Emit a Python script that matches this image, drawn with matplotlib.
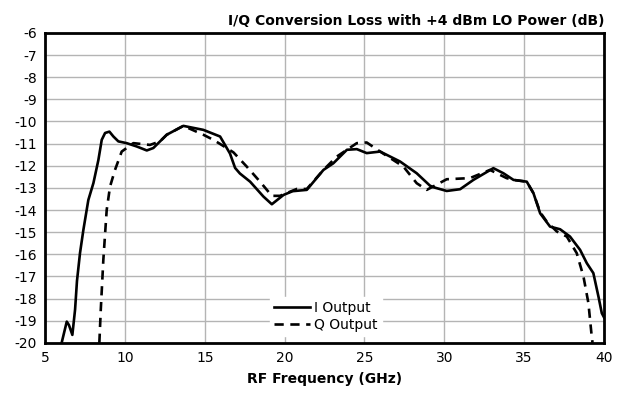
import matplotlib
matplotlib.use('Agg')
import matplotlib.pyplot as plt
import matplotlib.ticker as mticker

plt.rcParams['axes.unicode_minus'] = False

# I output trace (GHz, dB)
i_freq = [6.04, 6.36, 6.5, 6.71, 6.88, 7.0, 7.19, 7.4, 7.71, 8.03, 8.34, 8.55, 8.76, 9.03, 9.28,
          9.59, 10.11, 10.74, 11.37, 11.78, 12.62, 13.66, 14.91, 15.96, 16.58, 16.9, 17.2, 17.84,
          18.67, 19.2, 19.93, 20.5, 21.39, 22.43, 23.05, 23.9, 24.52, 25.14, 25.98, 27.23, 28.27,
          29.1, 29.31, 30.15, 30.99, 31.82, 33.07, 33.7, 34.33, 35.16, 35.58, 36.0, 36.62, 37.25,
          37.87, 38.5, 38.92, 39.33, 39.65, 39.86, 40.0]
i_loss = [-20.0, -19.04, -19.2, -19.64, -18.5, -17.2, -15.94, -14.9, -13.55, -12.78, -11.74, -10.83,
          -10.52, -10.46, -10.68, -10.9, -10.98, -11.13, -11.31, -11.2, -10.6, -10.2, -10.38, -10.68,
          -11.45, -12.1, -12.35, -12.72, -13.39, -13.74, -13.32, -13.15, -13.09, -12.19, -11.89,
          -11.28, -11.25, -11.43, -11.36, -11.81, -12.34, -12.9, -12.97, -13.14, -13.06, -12.64,
          -12.11, -12.34, -12.64, -12.72, -13.24, -14.15, -14.75, -14.87, -15.2, -15.8, -16.4,
          -16.85, -17.91, -18.66, -18.85]

# Q output trace (GHz, dB)
q_freq = [8.4, 8.49, 8.65, 8.86, 9.07, 9.38, 9.8, 10.53, 11.57, 12.2, 12.62, 13.66, 14.91, 15.54,
          16.37, 16.8, 17.63, 18.46, 19.2, 19.71, 20.76, 21.39, 22.43, 23.26, 24.52, 25.14, 25.98,
          27.44, 28.27, 28.9, 29.4, 30.15, 31.6, 32.86, 33.9, 34.33, 35.16, 35.58, 36.0, 36.41,
          37.04, 37.67, 38.29, 38.71, 39.02, 39.23, 39.28]
q_loss = [-20.0, -18.5, -16.25, -14.0, -12.94, -12.19, -11.36, -10.98, -11.06, -10.9, -10.6, -10.2,
          -10.6, -10.83, -11.2, -11.4, -12.04, -12.72, -13.36, -13.36, -13.05, -13.05, -12.19,
          -11.59, -10.98, -10.95, -11.36, -12.04, -12.79, -13.09, -12.9, -12.61, -12.56, -12.19,
          -12.56, -12.64, -12.72, -13.24, -14.1, -14.52, -14.97, -15.2, -15.95, -17.0, -18.2,
          -19.72, -20.0]

fig = plt.figure(figsize=(6.17, 4.01), dpi=100)
ax = fig.add_axes([0.073, 0.145, 0.906, 0.773])

ax.plot(i_freq, i_loss, color='black', lw=1.9, solid_joinstyle='round', label='I Output')
ax.plot(q_freq, q_loss, color='black', lw=1.9, ls=(0, (3.5, 2.5)), dash_joinstyle='round',
        label='Q Output')

ax.set_xlim(5, 40)
ax.set_ylim(-20, -6)
ax.xaxis.set_major_locator(mticker.MultipleLocator(5))
ax.yaxis.set_major_locator(mticker.MultipleLocator(1))
ax.grid(True, color='#b4b4b4', lw=1)
ax.set_axisbelow(True)
ax.tick_params(length=0, labelsize=10, pad=6)
for s in ax.spines.values():
    s.set_linewidth(2)
    s.set_color('black')

ax.set_xlabel('RF Frequency (GHz)', fontweight='bold', fontsize=10, labelpad=5)
ax.set_title('I/Q Conversion Loss with +4 dBm LO Power (dB)', fontweight='bold',
             fontsize=10, loc='right', pad=6)

leg = ax.legend(loc='lower left', bbox_to_anchor=(0.39, 0.0), fontsize=10, frameon=True,
                fancybox=False, edgecolor='white', framealpha=1, handlelength=2.6,
                handletextpad=0.3, borderpad=0.3, labelspacing=0.2)

fig.savefig('out.png', dpi=100)
